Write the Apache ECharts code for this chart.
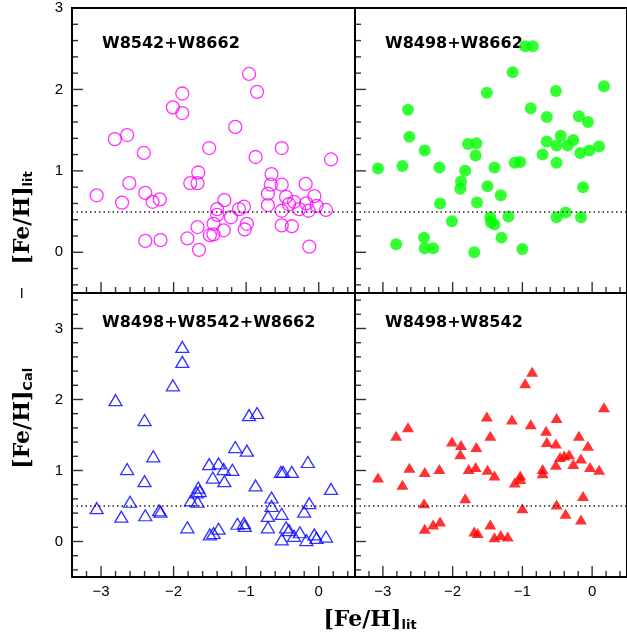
<!DOCTYPE html>
<html>
<head>
<meta charset="utf-8">
<script src="https://cdn.jsdelivr.net/npm/echarts@6/dist/echarts.min.js"></script>
<style>
  html, body { margin: 0; padding: 0; background: #fff; }
  #chart { width: 627px; height: 639px; }
</style>
</head>
<body>
<div id="chart"></div>
<script>
// [Fe/H]_lit (x) and [Fe/H]_Cal - [Fe/H]_lit (y) for each calibration
const w8542w8662Lit = [-3.06, -2.81, -2.64, -2.71, -2.61, -2.41, -2.39, -2.29, -2.19, -2.39, -2.18, -2.01, -1.88, -1.88, -1.77, -1.67, -1.66, -1.81, -1.67, -1.65, -1.51, -1.50, -1.45, -1.45, -1.40, -1.40, -1.30, -1.31, -1.21, -1.15, -1.10, -1.03, -1.02, -0.99, -0.96, -0.85, -0.87, -0.70, -0.70, -0.66, -0.65, -0.51, -0.51, -0.51, -0.51, -0.45, -0.41, -0.37, -0.34, -0.27, -0.18, -0.17, -0.14, -0.13, -0.06, -0.03, 0.10, 0.17];
const w8542w8662Diff = [0.70, 1.39, 1.44, 0.61, 0.85, 1.22, 0.73, 0.62, 0.65, 0.14, 0.15, 1.78, 1.95, 1.71, 0.85, 0.85, 0.98, 0.17, 0.31, 0.03, 1.28, 0.21, 0.35, 0.22, 0.53, 0.46, 0.64, 0.27, 0.43, 1.54, 0.53, 0.56, 0.28, 0.35, 2.19, 1.97, 1.17, 0.72, 0.58, 0.83, 0.96, 1.28, 0.83, 0.51, 0.33, 0.68, 0.59, 0.32, 0.62, 0.53, 0.84, 0.60, 0.51, 0.07, 0.69, 0.57, 0.52, 1.14];

const w8498w8662Lit = [-3.07, -2.81, -2.72, -2.64, -2.62, -2.40, -2.41, -2.40, -2.28, -2.19, -2.18, -2.01, -1.88, -1.89, -1.82, -1.78, -1.66, -1.67, -1.65, -1.69, -1.51, -1.50, -1.46, -1.45, -1.40, -1.40, -1.31, -1.30, -1.20, -1.14, -1.11, -1.03, -1.00, -0.96, -0.85, -0.88, -0.71, -0.65, -0.65, -0.52, -0.51, -0.45, -0.51, -0.51, -0.38, -0.35, -0.27, -0.19, -0.06, -0.17, -0.13, -0.16, -0.04, 0.10, 0.17];
const w8498w8662Diff = [1.03, 0.10, 1.06, 1.75, 1.42, 1.25, 0.18, 0.05, 0.05, 1.04, 0.60, 0.38, 0.87, 0.78, 1.00, 1.33, 1.34, 1.19, 0.61, 0.00, 1.96, 0.81, 0.43, 0.37, 0.34, 1.04, 0.70, 0.18, 0.44, 2.21, 1.10, 1.11, 0.04, 2.53, 2.53, 1.77, 1.20, 1.66, 1.36, 1.98, 1.31, 1.43, 1.10, 0.43, 0.49, 1.31, 1.38, 1.67, 1.60, 1.22, 0.80, 0.43, 1.25, 1.30, 2.04];

const w8498w8542w8662Lit = [-3.06, -2.80, -2.72, -2.64, -2.60, -2.40, -2.40, -2.39, -2.28, -2.20, -2.18, -2.01, -1.88, -1.88, -1.81, -1.76, -1.67, -1.68, -1.66, -1.64, -1.51, -1.46, -1.50, -1.45, -1.38, -1.38, -1.31, -1.30, -1.19, -1.15, -1.12, -1.03, -1.02, -0.99, -0.96, -0.85, -0.87, -0.70, -0.70, -0.65, -0.65, -0.52, -0.49, -0.51, -0.51, -0.45, -0.41, -0.37, -0.34, -0.26, -0.20, -0.17, -0.15, -0.13, -0.06, -0.03, 0.10, 0.17];
const w8498w8542w8662Diff = [0.47, 1.99, 0.35, 1.02, 0.56, 1.71, 0.85, 0.37, 1.20, 0.44, 0.42, 2.20, 2.74, 2.53, 0.20, 0.58, 0.56, 0.69, 0.76, 0.71, 1.09, 0.90, 0.10, 0.12, 1.10, 0.18, 1.02, 0.85, 1.01, 1.33, 0.25, 0.26, 0.22, 1.28, 1.78, 1.81, 0.79, 0.20, 0.36, 0.62, 0.50, 0.98, 0.98, 0.39, 0.03, 0.20, 0.16, 0.98, 0.08, 0.13, 0.42, 0.02, 1.12, 0.54, 0.10, 0.05, 0.07, 0.74];

const w8498w8542Lit = [-3.07, -2.81, -2.72, -2.64, -2.62, -2.40, -2.41, -2.40, -2.28, -2.19, -2.18, -2.01, -1.88, -1.89, -1.82, -1.77, -1.67, -1.66, -1.69, -1.64, -1.51, -1.50, -1.46, -1.46, -1.40, -1.40, -1.31, -1.21, -1.15, -1.11, -1.03, -1.03, -1.00, -0.96, -0.86, -0.88, -0.71, -0.71, -0.66, -0.65, -0.51, -0.52, -0.52, -0.51, -0.46, -0.40, -0.33, -0.38, -0.27, -0.19, -0.16, -0.13, -0.16, -0.06, -0.03, 0.10, 0.17];
const w8498w8542Diff = [0.90, 1.49, 0.80, 1.61, 1.04, 0.98, 0.54, 0.18, 0.24, 1.02, 0.28, 1.41, 1.36, 1.23, 0.61, 1.02, 1.05, 1.33, 0.14, 0.12, 1.76, 1.01, 1.49, 0.24, 0.93, 0.06, 0.09, 0.07, 1.72, 0.83, 0.93, 0.88, 0.47, 2.23, 2.39, 1.65, 1.02, 0.96, 1.56, 1.40, 1.74, 1.38, 1.08, 0.52, 1.19, 1.21, 1.23, 0.39, 1.09, 1.49, 1.17, 0.64, 0.31, 1.35, 1.05, 1.01, 1.89];

const panelTitles = ['W8542+W8662', 'W8498+W8662', 'W8498+W8542+W8662', 'W8498+W8542'];
const refLevel = 0.5;

const xRange = [-3.4, 0.5];
const yRangeTop = [-0.5, 3];
const yRangeBottom = [-0.5, 3.5];
const xMajor = [-3, -2, -1, 0];
const yMajor = [0, 1, 2, 3];

// minor ticks every 0.2 between the integers
function minorTicks(lo, hi) {
    const out = [];
    for (let k = Math.ceil(lo * 5); k <= Math.floor(hi * 5); k++) {
        if (k % 5 !== 0) out.push(+(k / 5).toFixed(1));
    }
    return out;
}
const xMinor = minorTicks(xRange[0] + 0.01, xRange[1] - 0.01);
const yMinorTop = minorTicks(yRangeTop[0] + 0.01, yRangeTop[1] - 0.01);
const yMinorBottom = minorTicks(yRangeBottom[0] + 0.01, yRangeBottom[1] - 0.01);

const labelFont = 'Liberation Sans';
const fmt = v => (v < 0 ? '\u2212' + Math.abs(v) : String(v));
const frameLine = { color: '#000', width: 2 };
const minorLen = 6;
const majorLen = 11;

const panels = [
    { left: 72, top: 8, width: 283, height: 285 },
    { left: 355, top: 8, width: 283, height: 285 },
    { left: 72, top: 293, width: 283, height: 284 },
    { left: 355, top: 293, width: 283, height: 284 },
];

const panelData = [
    { xs: w8542w8662Lit, ys: w8542w8662Diff, symbol: 'circle', size: 13, style: { color: 'rgba(0,0,0,0)', borderColor: '#ff00ff', borderWidth: 1.3 } },
    { xs: w8498w8662Lit, ys: w8498w8662Diff, symbol: 'circle', size: 12, style: { color: '#00ff00' } },
    { xs: w8498w8542w8662Lit, ys: w8498w8542w8662Diff, symbol: 'triangle', size: [13, 11], style: { color: 'rgba(0,0,0,0)', borderColor: '#0000ff', borderWidth: 1.3 } },
    { xs: w8498w8542Lit, ys: w8498w8542Diff, symbol: 'triangle', size: [12, 10], style: { color: '#ff0000' } },
];

const grids = [];
const xAxis = [];
const yAxis = [];
const series = [];

// inward tick marks: short bars placed on the frame through the panel's own axes
function tickMarks(i, dim, values, edge, len) {
    const isX = dim === 'x';
    return {
        type: 'scatter', xAxisIndex: i, yAxisIndex: i, silent: true, clip: false, z: 3,
        data: values.map(v => (isX ? [v, edge] : [edge, v])),
        symbol: 'rect',
        symbolSize: isX ? [1.4, len] : [len, 1.4],
        symbolOffset: isX ? [0, -len / 2] : [len / 2, 0],
        itemStyle: { color: '#000' }
    };
}

panels.forEach((p, i) => {
    const bottomRow = i >= 2;
    const leftCol = i % 2 === 0;
    const yr = bottomRow ? yRangeBottom : yRangeTop;
    const yMinor = bottomRow ? yMinorBottom : yMinorTop;
    const d = panelData[i];
    grids.push(Object.assign({ show: true, borderColor: '#000', borderWidth: 2, backgroundColor: 'transparent' }, p));
    xAxis.push({
        type: 'value', gridIndex: i, min: xRange[0], max: xRange[1], position: 'bottom',
        axisLine: { show: true, onZero: false, lineStyle: frameLine },
        axisTick: { show: false },
        axisLabel: { show: bottomRow, customValues: xMajor, formatter: fmt, margin: 7, color: '#000', fontFamily: labelFont, fontSize: 15 },
        splitLine: { show: false }
    });
    yAxis.push({
        type: 'value', gridIndex: i, min: yr[0], max: yr[1], position: 'left',
        axisLine: { show: true, onZero: false, lineStyle: frameLine },
        axisTick: { show: false },
        axisLabel: { show: leftCol, customValues: yMajor, formatter: fmt, margin: 9, color: '#000', fontFamily: labelFont, fontSize: 15 },
        splitLine: { show: false }
    });
    series.push({
        type: 'scatter',
        xAxisIndex: i,
        yAxisIndex: i,
        data: d.xs.map((x, k) => [x, d.ys[k]]),
        symbol: d.symbol,
        symbolSize: d.size,
        itemStyle: d.style,
        silent: true,
        markLine: {
            silent: true,
            symbol: ['none', 'none'],
            label: { show: false },
            lineStyle: { color: '#222', width: 1.5, type: [1.5, 3] },
            data: [{ yAxis: refLevel }]
        }
    });
    series.push(tickMarks(i, 'x', xMajor, yr[0], majorLen));
    series.push(tickMarks(i, 'x', xMinor, yr[0], minorLen));
    series.push(tickMarks(i, 'y', yMajor, xRange[0], majorLen));
    series.push(tickMarks(i, 'y', yMinor, xRange[0], minorLen));
});

// panel labels
const titlePos = [[102, 44], [385, 44], [102, 323], [385, 323]];
const graphic = panelTitles.map((t, i) => ({
    type: 'text', x: titlePos[i][0], y: titlePos[i][1], silent: true,
    style: { text: t, font: 'bold 16px "DejaVu Sans"', fill: '#000', textVerticalAlign: 'middle' }
}));

const serifBold = 'bold 22px "DejaVu Serif"';
const subFont = 'bold 13px "DejaVu Sans"';
graphic.push({
    type: 'text', x: 370, y: 620, silent: true,
    style: {
        text: '{m|[Fe/H]}{s|lit}',
        textAlign: 'center', textVerticalAlign: 'middle',
        rich: {
            m: { font: serifBold, fill: '#000', lineHeight: 30, verticalAlign: 'middle' },
            s: { font: subFont, fill: '#000', lineHeight: 30, padding: [12, 0, 0, 0], verticalAlign: 'middle' }
        }
    }
});
graphic.push({
    type: 'text', x: 23, y: 320, rotation: Math.PI / 2, silent: true,
    style: {
        text: '{m|[Fe/H]}{s|Cal}{d|\u2212}{m|[Fe/H]}{s|lit}',
        textAlign: 'center', textVerticalAlign: 'middle',
        rich: {
            m: { font: serifBold, fill: '#000', lineHeight: 30, verticalAlign: 'middle' },
            s: { font: subFont, fill: '#000', lineHeight: 30, padding: [12, 0, 0, 0], verticalAlign: 'middle' },
            d: { font: '16px "DejaVu Sans"', fill: '#000', lineHeight: 30, padding: [0, 22, 0, 68], verticalAlign: 'middle' }
        }
    }
});

const chart = echarts.init(document.getElementById('chart'), null, { renderer: 'canvas' });
chart.setOption({
    animation: false,
    backgroundColor: '#fff',
    grid: grids,
    xAxis: xAxis,
    yAxis: yAxis,
    series: series,
    graphic: graphic
});
</script>
</body>
</html>
